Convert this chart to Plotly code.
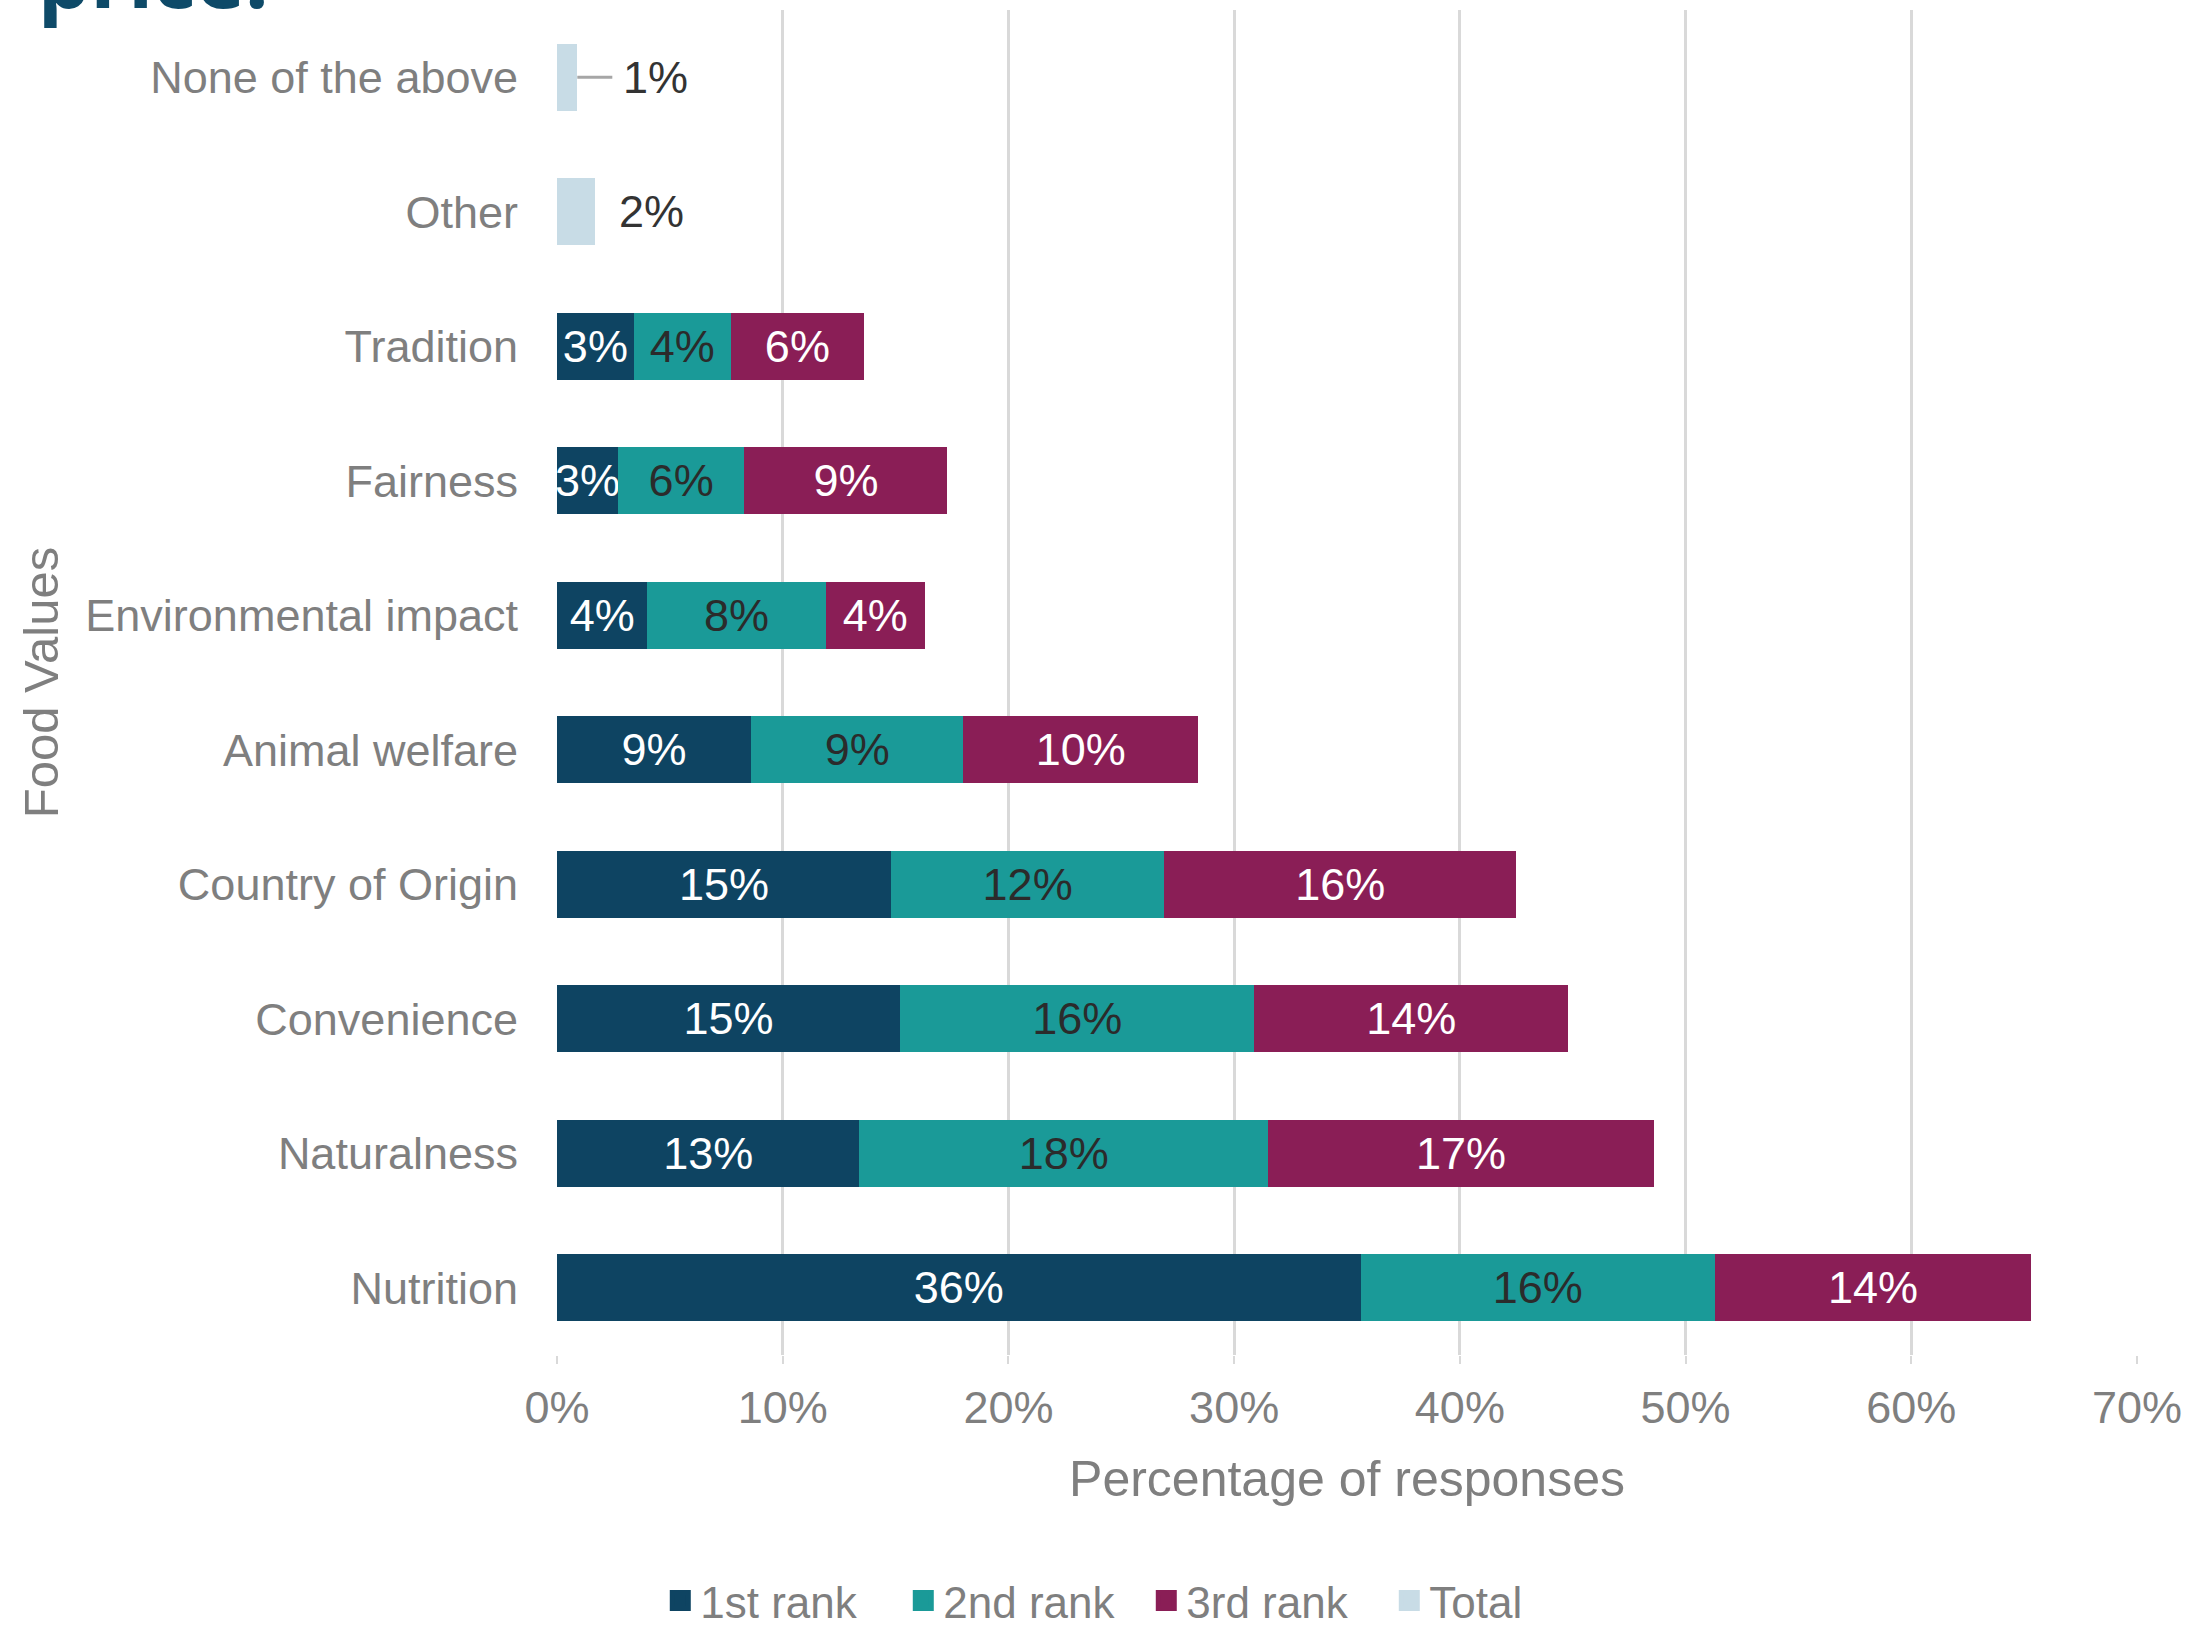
import plotly.graph_objects as go

# Food values ranked by respondents (percent of responses), listed top to bottom
categories = ["None of the above", "Other", "Tradition", "Fairness",
              "Environmental impact", "Animal welfare", "Country of Origin",
              "Convenience", "Naturalness", "Nutrition"]
rank1 = [None, None, 3.4, 2.7, 4.0, 8.6, 14.8, 15.2, 13.4, 35.6]
rank2 = [None, None, 4.3, 5.6, 7.9, 9.4, 12.1, 15.7, 18.1, 15.7]
rank3 = [None, None, 5.9, 9.0, 4.4, 10.4, 15.6, 13.9, 17.1, 14.0]
total = [0.9, 1.7, None, None, None, None, None, None, None, None]

x_ticks = [0, 10, 20, 30, 40, 50, 60, 70]

C1, C2, C3, CT = "#0e4462", "#1a9a98", "#8a1e56", "#c8dce6"
FONT = "Liberation Sans, Arial, sans-serif"
GREY = "#7f7f7f"

series = [("1st rank", rank1, C1, "white"),
          ("2nd rank", rank2, C2, "#2b2b2b"),
          ("3rd rank", rank3, C3, "white"),
          ("Total", total, CT, None)]

fig = go.Figure()

for name, vals, col, tcol in series:
    kw = {}
    if tcol is not None:
        kw = dict(texttemplate="%{x:.0f}%", textposition="inside",
                  insidetextanchor="middle", constraintext="none",
                  textangle=0,
                  textfont=dict(family=FONT, size=45, color=tcol))
    fig.add_trace(go.Bar(
        name=name, y=categories, x=vals, orientation="h",
        marker=dict(color=col, line=dict(width=0)),
        hoverinfo="skip", showlegend=False, **kw,
    ))

# Legend keys drawn as larger square swatches
for name, vals, col, tcol in series:
    fig.add_trace(go.Scatter(
        name=name, x=[None], y=[None], mode="markers",
        marker=dict(symbol="square", size=16, color=col,
                    line=dict(width=5, color=col)),
        hoverinfo="skip", showlegend=True,
    ))

# Labels for the single "Total" bars sit to the right of each bar
for cat, v in zip(categories, total):
    if v is None:
        continue
    if v < 1.2:
        fig.add_annotation(x=v, y=cat, xref="x", yref="y", text=f"{v:.0f}%",
                           showarrow=True, arrowhead=0, arrowwidth=3,
                           arrowcolor="#a6a6a6", ax=78, ay=0, borderpad=10,
                           font=dict(family=FONT, size=45, color="#333333"))
    else:
        fig.add_annotation(x=v, y=cat, xref="x", yref="y", text=f"{v:.0f}%",
                           showarrow=False, xanchor="left", xshift=22,
                           font=dict(family=FONT, size=45, color="#333333"))

# Clipped slide heading above the chart
fig.add_annotation(text="<b>for price:</b>", xref="paper", yref="paper",
                   x=-0.181, y=0.982, xanchor="right", yanchor="bottom",
                   showarrow=False,
                   font=dict(family="Open Sans, sans-serif", size=83,
                             color="#0e4a68"))

fig.update_layout(
    width=2190, height=1628,
    margin=dict(l=557, r=53, t=10, b=273, autoexpand=False),
    barmode="stack", bargap=0.5,
    plot_bgcolor="white", paper_bgcolor="white",
    font=dict(family=FONT, color=GREY),
    showlegend=True,
    legend=dict(orientation="h", xref="container", yref="container",
                x=0.3015, xanchor="left", y=0.0166, yanchor="middle",
                font=dict(family=FONT, size=44, color=GREY),
                traceorder="normal", itemwidth=30,
                entrywidth=198, entrywidthmode="pixels"),
    xaxis=dict(range=[0, 70], tickvals=x_ticks,
               ticktext=[f"{t}%" for t in x_ticks],
               showgrid=True, gridcolor="#d9d9d9", gridwidth=3,
               zeroline=False, showline=False,
               ticks="outside", ticklen=8, tickcolor="#d9d9d9", tickwidth=2,
               ticklabelstandoff=5,
               tickfont=dict(family=FONT, size=45, color=GREY),
               title=dict(text="Percentage of responses", standoff=28,
                          font=dict(family=FONT, size=50, color=GREY))),
    yaxis=dict(categoryorder="array", categoryarray=categories,
               autorange="reversed", showgrid=False, showline=False,
               ticks="", ticklabelstandoff=38,
               tickfont=dict(family=FONT, size=45, color=GREY),
               title=dict(text="Food Values", standoff=11,
                          font=dict(family=FONT, size=49, color=GREY))),
)

fig.write_html("out.html")
